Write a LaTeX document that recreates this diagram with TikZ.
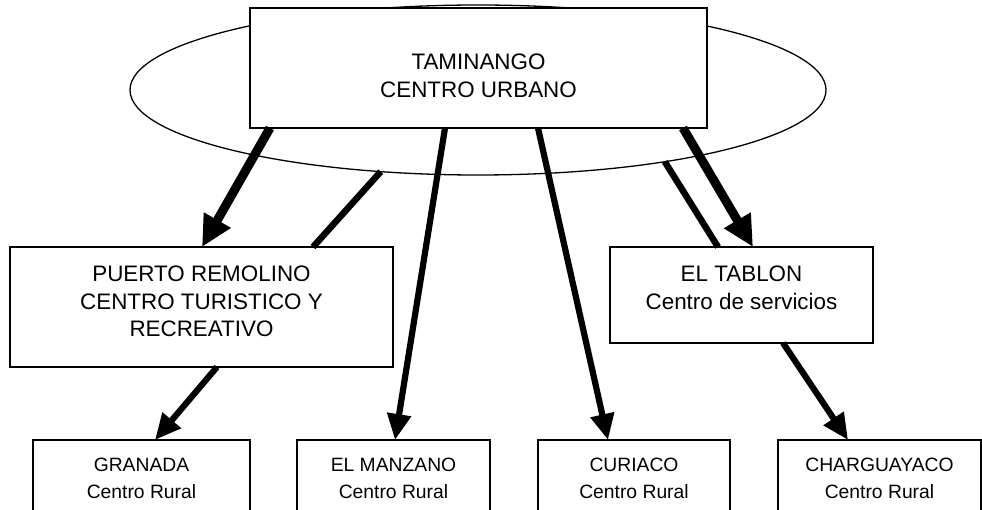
\documentclass[tikz,border=0pt]{standalone}
\usepackage{fontspec}
\setmainfont{Liberation Sans}
\usetikzlibrary{arrows.meta,shapes.geometric}
\begin{document}
\begin{tikzpicture}[x=1pt,y=1pt,
  box/.style={draw,line width=1.5pt,fill=white,inner sep=0pt,outer sep=0pt},
  bigtxt/.style={font=\fontsize{22.4}{28}\selectfont,align=center,inner sep=0pt},
  smalltxt/.style={font=\fontsize{19.3}{26.7}\selectfont,align=center,inner sep=0pt},
  thickarr/.style={line width=9pt,-{Triangle[length=31pt,width=29pt]}},
  normarr/.style={line width=6.2pt,-{Triangle[length=26pt,width=23pt]}},
  link/.style={line width=6.5pt}
]
\clip (0,0) rectangle (982,-510);
% ellipse behind the top box
\node[ellipse,draw,line width=1.3pt,minimum width=696pt,minimum height=170pt,inner sep=0pt,outer sep=0pt] (ell) at (478,-90) {};
% boxes
\node[box,minimum width=457pt,minimum height=120pt] (top) at (478.5,-68) {};
\node[box,minimum width=383pt,minimum height=120pt] (pr) at (201.5,-307) {};
\node[box,minimum width=263pt,minimum height=96pt] (tab) at (741.5,-295) {};
\node[box,minimum width=217pt,minimum height=80pt] (gra) at (141.5,-480) {};
\node[box,minimum width=193pt,minimum height=80pt] (man) at (393.5,-480) {};
\node[box,minimum width=192pt,minimum height=80pt] (cur) at (634,-480) {};
\node[box,minimum width=203pt,minimum height=80pt] (cha) at (879.5,-480) {};
% texts
\node[bigtxt] (ttop) at (478.5,-76.1) {TAMINANGO\\CENTRO URBANO};
\node[bigtxt,font=\fontsize{22.4}{27.5}\selectfont] (tpr) at (201.5,-301.3) {PUERTO REMOLINO\\CENTRO TURISTICO Y\\RECREATIVO};
\node[bigtxt] (ttab) at (741.5,-288.1) {EL TABLON\\Centro de servicios};
\node[smalltxt] (tgra) at (141.5,-478.5) {GRANADA\\Centro Rural};
\node[smalltxt] (tman) at (393.5,-478.5) {EL MANZANO\\Centro Rural};
\node[smalltxt] (tcur) at (634,-478.5) {CURIACO\\Centro Rural};
\node[smalltxt] (tcha) at (879.5,-478.5) {CHARGUAYACO\\Centro Rural};
% connectors
\draw[thickarr] ([xshift=-208.5pt]top.south) -- ([xshift=0.5pt]pr.north);
\draw[link] (ell.220) -- ([xshift=111.5pt]pr.north);
\draw[normarr] ([xshift=-33.5pt]top.south) -- ([xshift=1.5pt]man.north);
\draw[normarr] ([xshift=59.5pt]top.south) -- ([xshift=-26pt]cur.north);
\draw[link] (ell.-21.7) -- ([xshift=-23.5pt]tab.north);
\draw[thickarr] ([xshift=204.5pt]top.south) -- ([xshift=11.5pt]tab.north);
\draw[normarr] ([xshift=15.5pt]pr.south) -- ([xshift=13.5pt]gra.north);
\draw[normarr] ([xshift=41.5pt]tab.south) -- ([xshift=-31.5pt]cha.north);
\end{tikzpicture}
\end{document}
